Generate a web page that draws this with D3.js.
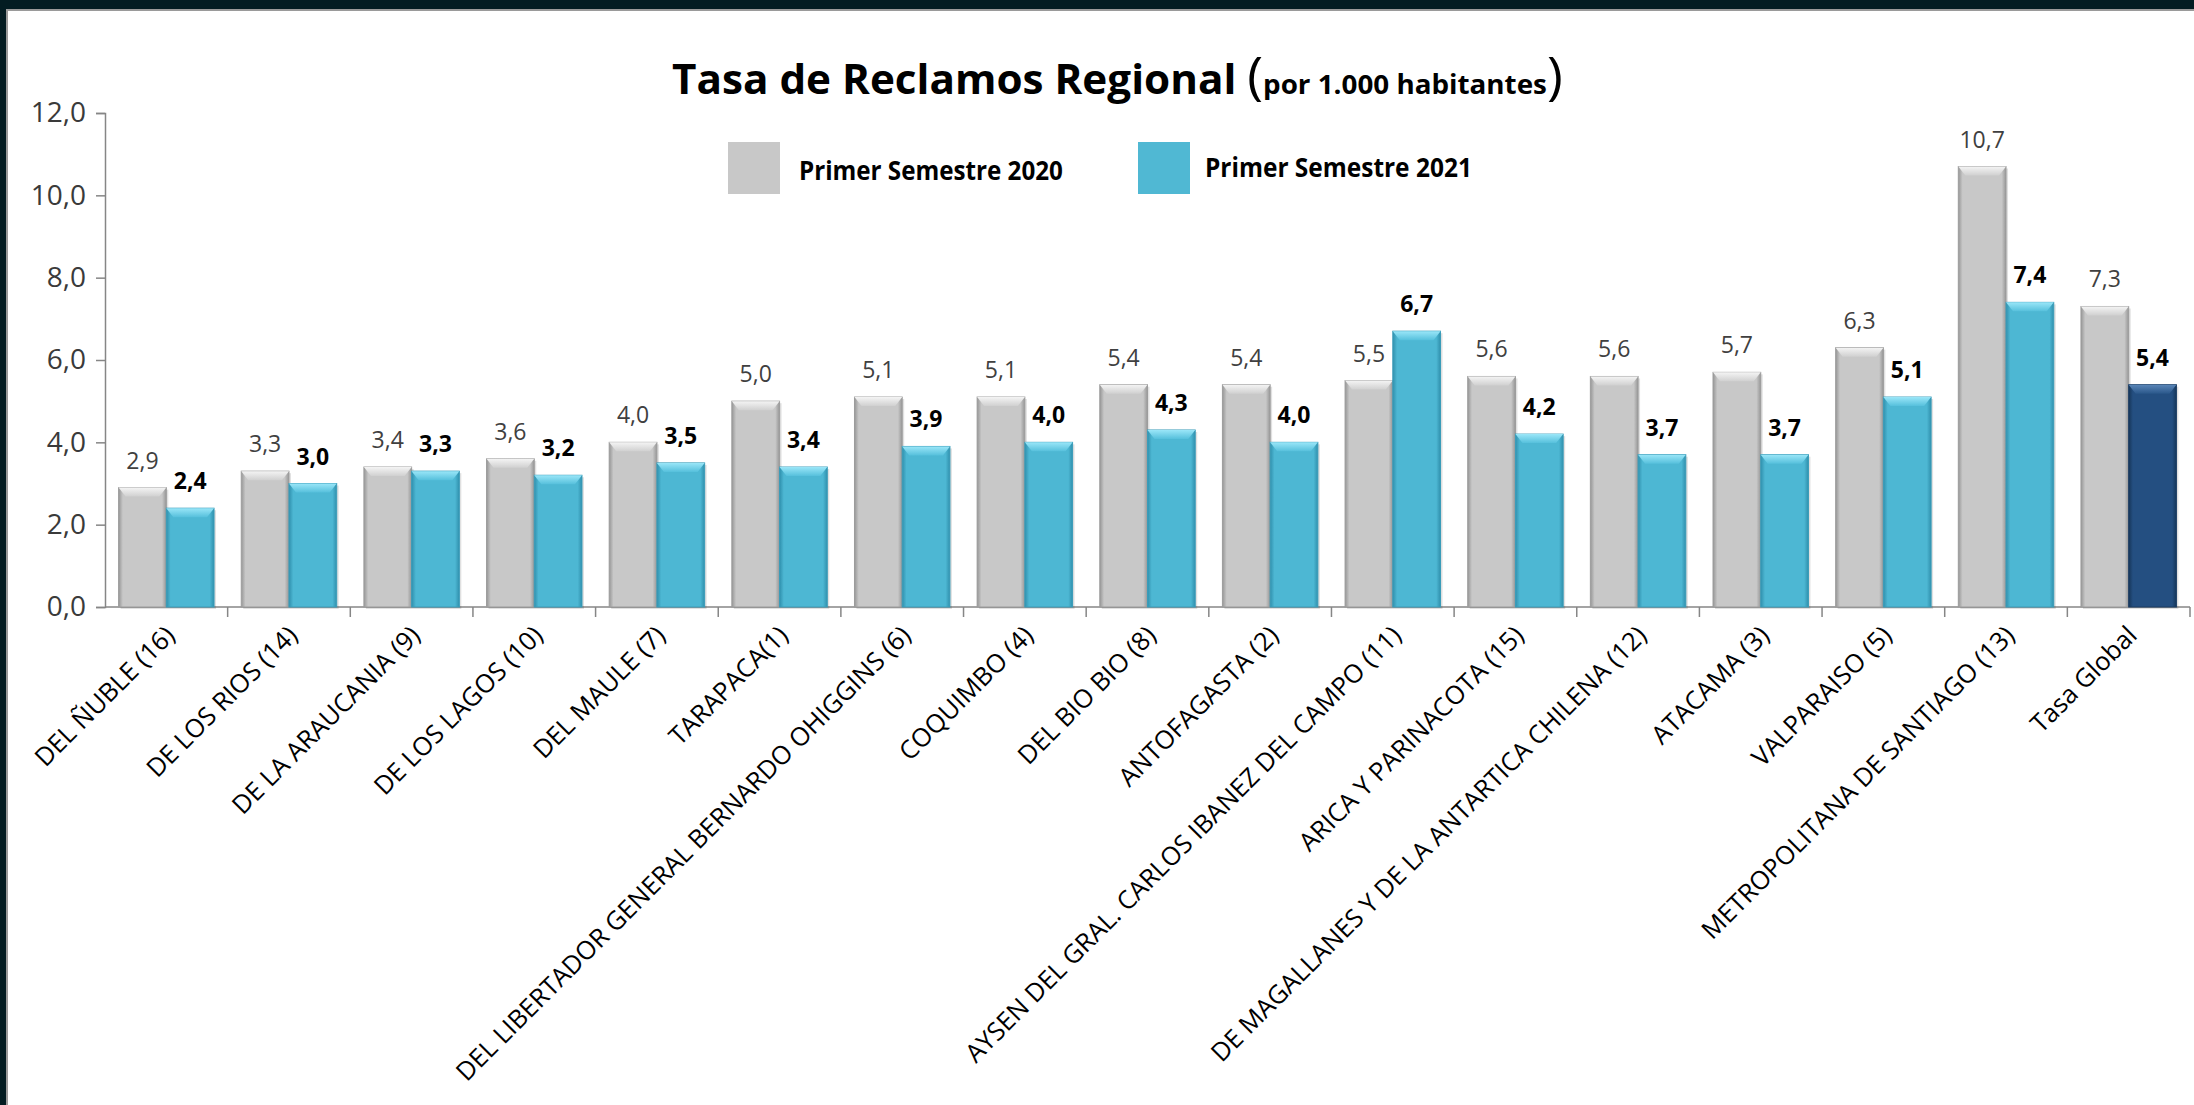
<!DOCTYPE html>
<html>
<head>
<meta charset="utf-8">
<script src="https://cdn.jsdelivr.net/npm/d3@7"></script>
<style>
  html, body { margin: 0; padding: 0; background: #fff; }
  svg { display: block; font-family: "Open Sans", sans-serif; }
</style>
</head>
<body>
<svg id="chart" width="2194" height="1105"></svg>
<script>
// Data
const categories = [
  "DEL ÑUBLE (16)", "DE LOS RIOS (14)", "DE LA ARAUCANIA (9)", "DE LOS LAGOS (10)",
  "DEL MAULE (7)", "TARAPACA(1)", "DEL LIBERTADOR GENERAL BERNARDO OHIGGINS (6)",
  "COQUIMBO (4)", "DEL BIO BIO (8)", "ANTOFAGASTA (2)",
  "AYSEN DEL GRAL. CARLOS IBANEZ DEL CAMPO (11)", "ARICA Y PARINACOTA (15)",
  "DE MAGALLANES Y DE LA ANTARTICA CHILENA (12)", "ATACAMA (3)", "VALPARAISO (5)",
  "METROPOLITANA DE SANTIAGO (13)", "Tasa Global"
];
const rate2020 = [2.9, 3.3, 3.4, 3.6, 4.0, 5.0, 5.1, 5.1, 5.4, 5.4, 5.5, 5.6, 5.6, 5.7, 6.3, 10.7, 7.3];
const rate2021 = [2.4, 3.0, 3.3, 3.2, 3.5, 3.4, 3.9, 4.0, 4.3, 4.0, 6.7, 4.2, 3.7, 3.7, 5.1, 7.4, 5.4];
const seriesNames = ["Primer Semestre 2020", "Primer Semestre 2021"];
const yTicks = [0, 2, 4, 6, 8, 10, 12];

const width = 2194, height = 1105;
const plot = { left: 105, right: 2190, top: 113, bottom: 607 };

const svg = d3.select('#chart');
const defs = svg.append('defs');

// frame: dark slide border top and left
svg.append('rect').attr('width', width).attr('height', height).attr('fill', '#031c22');
svg.append('rect').attr('x', 6).attr('y', 9).attr('width', width).attr('height', height).attr('fill', '#9a9a9a');
svg.append('rect').attr('x', 8).attr('y', 11).attr('width', width).attr('height', height).attr('fill', '#ffffff');

// gradients for the bevelled bars
function sideGrad(id, edge, face) {
  const g = defs.append('linearGradient').attr('id', id).attr('x1', 0).attr('x2', 1).attr('y1', 0).attr('y2', 0);
  [[0, edge], [0.09, face], [0.91, face], [1, edge]].forEach(s =>
    g.append('stop').attr('offset', s[0]).attr('stop-color', s[1]));
}
function topGrad(id, light, face) {
  const g = defs.append('linearGradient').attr('id', id).attr('x1', 0).attr('x2', 0).attr('y1', 0).attr('y2', 1);
  g.append('stop').attr('offset', 0).attr('stop-color', light);
  g.append('stop').attr('offset', 1).attr('stop-color', face);
}
sideGrad('g2020', '#969696', '#c8c8c8');
sideGrad('g2021', '#3090ad', '#4db7d3');
sideGrad('gGlobal', '#163659', '#244f81');
topGrad('t2020', '#f4f4f4', '#d0d0d0');
topGrad('t2021', '#9ae6f8', '#56c0dc');
topGrad('tGlobal', '#5a86b8', '#2a578a');

const x0 = d3.scaleBand().domain(categories).range([plot.left, plot.right]);
const x1 = d3.scaleBand().domain(['2020', '2021']).range([0, x0.bandwidth()]).paddingOuter(0.285);
const y = d3.scaleLinear().domain([0, 12]).range([plot.bottom, plot.top]);
const fmt = v => d3.format('.1f')(v).replace('.', ',');

// y axis
const yAxis = svg.append('g')
  .attr('transform', `translate(${plot.left},0)`)
  .call(d3.axisLeft(y).tickValues(yTicks).tickFormat(fmt).tickSize(9).tickPadding(10));
yAxis.select('.domain').attr('stroke', '#868686').attr('stroke-width', 1.5);
yAxis.selectAll('.tick line').attr('stroke', '#868686').attr('stroke-width', 1.5);
yAxis.selectAll('.tick text').attr('font-size', 28).attr('fill', '#3a3a3a')
  .attr('font-family', '"Open Sans", sans-serif');

// x axis: line plus ticks at band boundaries
const xAxis = svg.append('g');
xAxis.append('line')
  .attr('x1', plot.left).attr('x2', plot.right)
  .attr('y1', y(0)).attr('y2', y(0))
  .attr('stroke', '#868686').attr('stroke-width', 1.5);
xAxis.selectAll('.sep')
  .data(categories)
  .enter()
  .append('line')
  .attr('x1', d => x0(d) + x0.bandwidth()).attr('x2', d => x0(d) + x0.bandwidth())
  .attr('y1', y(0)).attr('y2', y(0) + 10)
  .attr('stroke', '#868686').attr('stroke-width', 1.5);

// bars
const rows = categories.map((c, i) => ({ cat: c, v2020: rate2020[i], v2021: rate2021[i] }));
const groups = svg.selectAll('.grp')
  .data(rows)
  .enter()
  .append('g')
  .attr('transform', d => `translate(${x0(d.cat)},0)`);

const barData = d => [
  { key: '2020', value: d.v2020, kind: '2020' },
  { key: '2021', value: d.v2021, kind: d.cat === 'Tasa Global' ? 'Global' : '2021' }
];
const bw = x1.bandwidth();
const bev = 7;

const bars = groups.selectAll('.bar')
  .data(barData)
  .enter()
  .append('g');

bars.append('rect')
  .attr('x', d => x1(d.key) + 2)
  .attr('y', d => y(d.value) + 2)
  .attr('width', bw)
  .attr('height', d => y(0) - y(d.value))
  .attr('fill', 'rgba(0,0,0,0.12)');

bars.append('rect')
  .attr('x', d => x1(d.key))
  .attr('y', d => y(d.value))
  .attr('width', bw)
  .attr('height', d => y(0) - y(d.value))
  .attr('fill', d => `url(#g${d.kind})`)
  .attr('stroke', d => d.kind === '2020' ? '#9c9c9c' : d.kind === 'Global' ? '#1a3c63' : '#3a9cb9')
  .attr('stroke-width', 1);

bars.append('polygon')
  .attr('points', d => {
    const l = x1(d.key), r = l + bw, t = y(d.value);
    return [[l, t], [r, t], [r - bev, t + bev + 2], [l + bev, t + bev + 2]].map(p => p.join(',')).join(' ');
  })
  .attr('fill', d => `url(#t${d.kind})`);

// value labels
bars.append('text')
  .attr('x', d => x1(d.key) + bw / 2)
  .attr('y', d => y(d.value) - 19)
  .attr('text-anchor', 'middle')
  .attr('font-size', 23)
  .attr('font-weight', d => d.key === '2020' ? 400 : 700)
  .attr('fill', d => d.key === '2020' ? '#404040' : '#000')
  .text(d => fmt(d.value));

// category labels, rotated
svg.selectAll('.xlab')
  .data(categories)
  .enter()
  .append('text')
  .attr('transform', d => `translate(${x0(d) + x0.bandwidth() / 2 + 10},${y(0) + 30}) rotate(-45)`)
  .attr('text-anchor', 'end')
  .attr('font-size', 25.5)
  .attr('fill', '#000')
  .text(d => d);

// fit a text element into a horizontal span by stretching it
function fitText(sel, x0px, x1px, baseline) {
  const w = sel.node().getBBox().width;
  sel.attr('transform', `translate(${x0px},${baseline}) scale(${(x1px - x0px) / w},1)`);
}

// title
const title = svg.append('text').attr('font-weight', 700).attr('fill', '#000');
title.append('tspan').attr('font-size', 41).text('Tasa de Reclamos Regional ');
title.append('tspan').attr('font-size', 52).attr('font-weight', 400).text('(');
title.append('tspan').attr('font-size', 27).text('por 1.000 habitantes');
title.append('tspan').attr('font-size', 52).attr('font-weight', 400).text(')');
fitText(title, 672, 1563, 94);

// legend
const legendX = [728, 1138];
const legendTextX = [[799, 1063], [1205, 1472]];
const legendBase = [180, 177];
const legendFill = ['#c8c8c8', '#50b8d3'];
seriesNames.forEach((name, i) => {
  svg.append('rect')
    .attr('x', legendX[i]).attr('y', 142)
    .attr('width', 52).attr('height', 52)
    .attr('fill', legendFill[i]);
  const t = svg.append('text')
    .attr('font-size', 26).attr('font-weight', 700).attr('fill', '#000')
    .text(name);
  fitText(t, legendTextX[i][0], legendTextX[i][1], legendBase[i]);
});
</script>
</body>
</html>
